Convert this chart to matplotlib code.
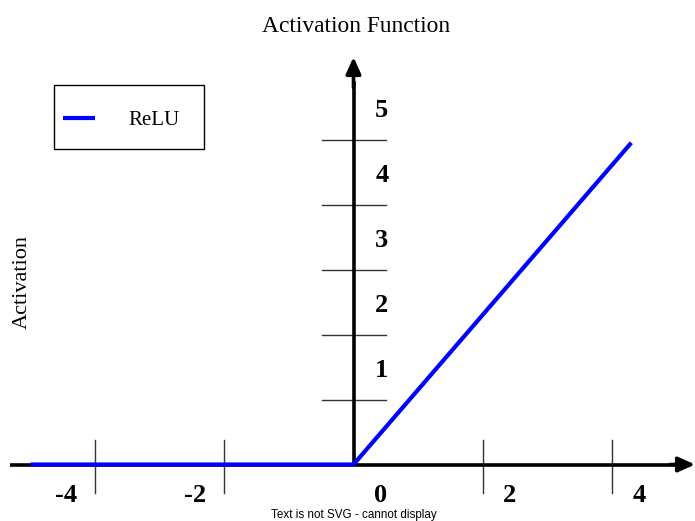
import matplotlib
matplotlib.use("Agg")
import matplotlib.pyplot as plt
from matplotlib.patches import Rectangle

# ---- data ----
relu_x = [-5.0, 0.0, 4.3]
relu_y = [0.0, 0.0, 4.95]
x_ticks = [-4, -2, 2, 4]
x_tick_labels = ["-4", "-2", "0", "2", "4"]
x_label_pos = [-4.45, -2.45, 0.42, 2.42, 4.42]
y_ticks = [1, 2, 3, 4, 5]
y_tick_labels = ["1", "2", "3", "4", "5"]
series_name = "ReLU"
title = "Activation Function"
ylabel = "Activation"
note = "Text is not SVG - cannot display"

W, H = 695, 521
ux, uy = 64.6, 65.0
ox, oy = 353.5, 464.5  # origin in px (from top-left)

fig = plt.figure(figsize=(W / 100, H / 100), dpi=100)
ax = fig.add_axes([0, 0, 1, 1])
ax.set_xlim(-ox / ux, (W - ox) / ux)
ax.set_ylim(-(H - oy) / uy, oy / uy)
ax.axis("off")

serif = ["Liberation Serif", "DejaVu Serif"]

# tick lines
for t in x_ticks:
    ax.plot([t, t], [-0.44, 0.37], color="#333333", lw=1.0, zorder=2)
for t in y_ticks:
    ax.plot([-0.48, 0.5], [t, t], color="#333333", lw=1.0, zorder=2)

# axes with arrows
ax.plot([-5.32, 5.0], [0, 0], color="black", lw=2.6, zorder=3, solid_capstyle="butt")
ax.annotate("", xy=(W / ux - ox / ux, 0), xytext=(4.9, 0),
            arrowprops=dict(arrowstyle="-|>,head_length=1.0,head_width=0.45",
                            color="black", lw=2.6, shrinkA=0, shrinkB=0), zorder=3)
ax.plot([0, 0], [0, 5.9], color="black", lw=2.6, zorder=3, solid_capstyle="butt")
ax.annotate("", xy=(0, (oy - 57) / uy), xytext=(0, 5.8),
            arrowprops=dict(arrowstyle="-|>,head_length=1.0,head_width=0.45",
                            color="black", lw=2.6, shrinkA=0, shrinkB=0), zorder=3)

# relu line
ax.plot(relu_x, relu_y, color="#0000ff", lw=3.0, zorder=4, label=series_name,
        solid_capstyle="butt")

# tick labels
for xp, lab in zip(x_label_pos, x_tick_labels):
    ax.text(xp, -0.47, lab, ha="center", va="center", fontsize=19,
            fontweight="bold", family=serif)
for t, lab in zip(y_ticks, y_tick_labels):
    ax.text(0.44, t + 0.45, lab, ha="center", va="center", fontsize=19,
            fontweight="bold", family=serif)

# title, ylabel, note
fig.text(356 / W, 1 - 26 / H, title, ha="center", va="center", fontsize=16.9, family=serif)
fig.text(22 / W, 1 - 282 / H, ylabel, ha="center", va="center", fontsize=16,
         family=serif, rotation=90)
fig.text(354 / W, 1 - 515 / H, note, ha="center", va="center", fontsize=8.4,
         family=["Liberation Sans", "DejaVu Sans"])

# legend (content) + frame
box = (54 / W, 1 - 149 / H, 150 / W, 64 / H)
leg_box = (54 / W, 1 - 152 / H, 150 / W, 64 / H)
leg = ax.legend(loc="center left", bbox_to_anchor=leg_box,
                bbox_transform=fig.transFigure, mode="expand",
                borderaxespad=0, frameon=False,
                prop=dict(family=serif, size=15), handlelength=1.5,
                handletextpad=1.6, borderpad=0.45)
fig.patches.append(Rectangle((box[0], box[1]), box[2], box[3],
                             transform=fig.transFigure, fill=False,
                             edgecolor="black", lw=1.0, zorder=5))

fig.savefig("out.png", dpi=100)
